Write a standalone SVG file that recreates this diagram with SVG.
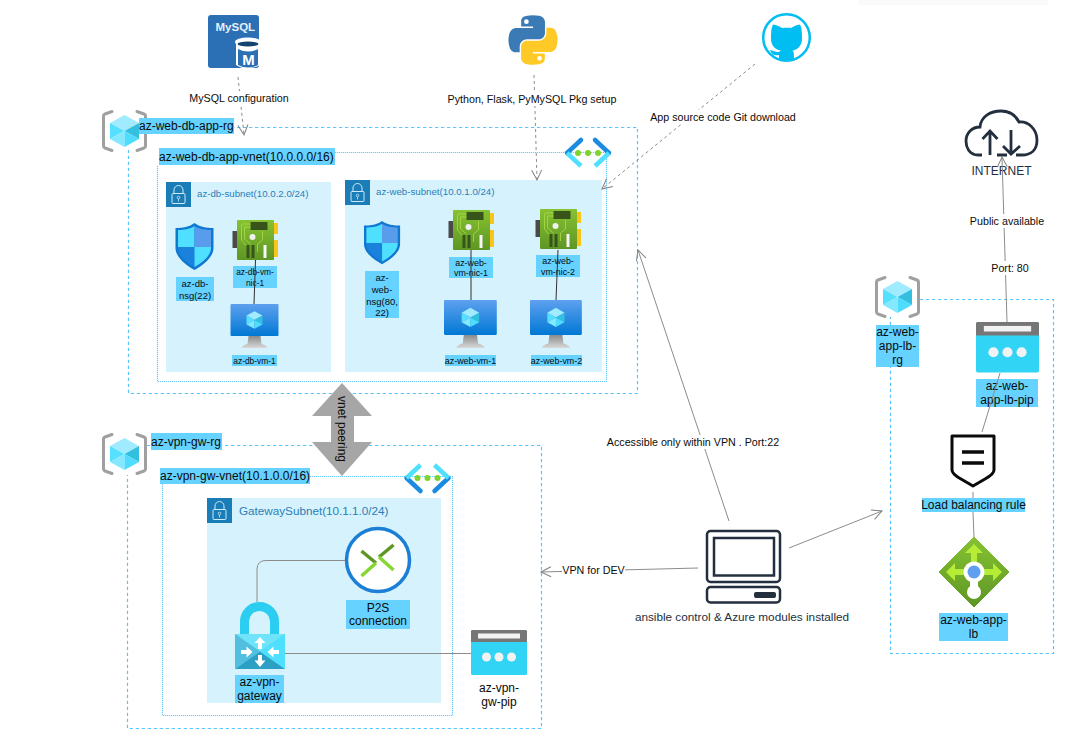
<svg xmlns="http://www.w3.org/2000/svg" width="1072" height="753" viewBox="0 0 1072 753">
<style>
text{font-family:"Liberation Sans",Arial,sans-serif;fill:#0b0b0b}
.m{text-anchor:middle}
.rg{fill:none;stroke:#5ac4ff;stroke-width:1.2;stroke-dasharray:3.3 2.7}
.vn{fill:none;stroke:#66ccff;stroke-width:1.2;stroke-dasharray:1.2 .8}
.sn{fill:#d6f3fd}
.lb{fill:#66d2ff}
.c{fill:none;stroke:#8c8c8c;stroke-width:1}
.a{marker-end:url(#open)}
.d{stroke-dasharray:3 3}
.b{fill:none;stroke:#303030;stroke-width:1}
.w{fill:#fff}
.t12{font-size:12px}.t11{font-size:10.7px}.t10{font-size:9.7px}.t9{font-size:9.5px}.t8{font-size:8.4px}.t88{font-size:8.9px}
.sub{fill:#2a7db8}
</style>
<defs>
<marker id="open" markerUnits="userSpaceOnUse" markerWidth="16" markerHeight="14" refX="11" refY="7" orient="auto"><path d="M1,2 L11,7 L1,12" fill="none" stroke="#808080" stroke-width="1"/></marker>
<linearGradient id="scr" x1="0" y1="0" x2="0" y2="1"><stop offset="0" stop-color="#5ea0ef"/><stop offset="1" stop-color="#0078d4"/></linearGradient>
<linearGradient id="std" x1="0" y1="0" x2="0" y2="1"><stop offset="0" stop-color="#8a8a8a"/><stop offset="1" stop-color="#d8d8d8"/></linearGradient>
<linearGradient id="grn" x1="0" y1="0" x2="0" y2="1"><stop offset="0" stop-color="#86c232"/><stop offset="1" stop-color="#5e9624"/></linearGradient>
<g id="cube">
<path d="M0,-16 L14.5,-8 L0,0 L-14.5,-8Z" fill="#a0ebff"/>
<path d="M14.5,-8 L14.5,8 L0,0Z" fill="#33bfdf"/>
<path d="M-14.5,-8 L-14.5,8 L0,0Z" fill="#55e0ff"/>
<path d="M-14.5,8 L0,16 L0,0Z" fill="#84e8ff"/>
<path d="M14.5,8 L0,16 L0,0Z" fill="#4fdcff"/>
</g>
<g id="rgicon">
<path d="M10,1.5 L3,4 Q1.5,4.5 1.5,6 V36 Q1.5,37.5 3,38 L10,40.5 M35,1.5 L42,4 Q43.5,4.5 43.5,6 V36 Q43.5,37.5 42,38 L35,40.5" fill="none" stroke="#a0a0a0" stroke-width="3" stroke-linecap="round"/>
<use href="#cube" x="22.5" y="21"/>
</g>
<g id="lock">
<rect width="25" height="25" fill="#1a7db8"/>
<path d="M8,11.5 V8 a4.5,4.5 0 0 1 9,0 V11.5" fill="none" stroke="#cfeaf7" stroke-width="1"/>
<rect x="6" y="11.5" width="13" height="10" rx="1" fill="none" stroke="#cfeaf7" stroke-width="1"/>
<circle cx="12.5" cy="15.5" r="1.3" fill="none" stroke="#cfeaf7" stroke-width=".8"/>
<path d="M12.5,17 V19.5" stroke="#cfeaf7" stroke-width=".8"/>
</g>
<g id="shield">
<path d="M19,0 C14,4 7,5 0,5 V25 C0,35 12,43 19,47 C26,43 38,35 38,25 V5 C31,5 24,4 19,0Z" fill="#0f78d0"/>
<path d="M19,3 C15,6 8,7 2.5,7 V24 H19Z" fill="#50e0ff"/>
<path d="M19,3 C23,6 30,7 35.5,7 V24 H19Z" fill="#5a9cec"/>
<path d="M2.5,24 H19 V44 C12,40 2.5,33 2.5,25Z" fill="#1a82dc"/>
<path d="M35.5,24 H19 V44 C26,40 35.5,33 35.5,25Z" fill="#50e0ff"/>
</g>
<g id="nic">
<rect x="0" y="11" width="4.5" height="17" fill="#4a4a4a"/>
<rect x="41" y="3" width="4.5" height="11" fill="#fcc419"/>
<rect x="41" y="20" width="4.5" height="17" fill="#fcc419"/>
<rect x="4.5" y="0" width="37" height="40" rx="1" fill="url(#grn)"/>
<rect x="18" y="2" width="17" height="8" fill="#37541a"/>
<path d="M18,4 H10 Q9,4 9,6 V20 L14,26 M18,7 H12 V19 L18,24 M30,11 V20 L25,24 V32" fill="none" stroke="#b4e34a" stroke-width=".7"/>
<circle cx="20" cy="17" r="3" fill="#f0f0f0"/>
<rect x="14" y="25" width="3" height="13" fill="#37541a"/>
<rect x="19" y="25" width="3" height="13" fill="#37541a"/>
<rect x="31" y="25" width="3" height="13" fill="#f5f5f5"/>
</g>
<g id="vm">
<path d="M18,32 H30 L31,40 Q36,41 37,44 H11 Q12,41 17,40Z" fill="url(#std)"/>
<rect x="0" y="0" width="48" height="32" rx="1" fill="url(#scr)"/>
<use href="#cube" transform="translate(24,16) scale(.55)"/>
</g>
<g id="vnet">
<path d="M17,1 L3,14" stroke="#1a8be0" stroke-width="4.500" stroke-linecap="round" fill="none"/>
<path d="M3,14 L17,27" stroke="#50e0ff" stroke-width="4.500" fill="none"/>
<path d="M31,1 L45,14" stroke="#1a8be0" stroke-width="4.500" stroke-linecap="round" fill="none"/>
<path d="M45,14 L31,27" stroke="#50e0ff" stroke-width="4.500" fill="none"/>
<circle cx="14" cy="14" r="3" fill="#7fd32e"/><circle cx="24" cy="14" r="3" fill="#7fd32e"/><circle cx="34" cy="14" r="3" fill="#7fd32e"/>
</g>
<g id="pip">
<rect width="56" height="45" rx="1.5" fill="#32d4f5"/>
<path d="M0,12 V1.5 Q0,0 1.5,0 H54.5 Q56,0 56,1.5 V12Z" fill="#767676"/>
<rect x="7" y="3.500" width="42" height="5" fill="#f2f2f2"/>
<circle cx="15.500" cy="27" r="4.500" fill="#f2f2f2"/><circle cx="28" cy="27" r="4.500" fill="#f2f2f2"/><circle cx="40.500" cy="27" r="4.500" fill="#f2f2f2"/>
</g>
<path id="py" d="M54.9,.5 C50.4,.5 46,.9 42.2,1.6 C31,3.6 29,7.7 29,15.3 V25.3 H55.2 V28.6 H19.1 C11.5,28.6 4.8,33.2 2.8,41.9 C.4,51.9 .3,58.1 2.8,68.5 C4.7,76.3 9.1,81.8 16.7,81.8 H25.7 V69.8 C25.7,61.2 33.2,53.6 42,53.6 H68.2 C75.5,53.6 81.3,47.6 81.3,40.3 V15.3 C81.3,8.2 75.3,2.9 68.2,1.7 C63.7,.9 59.1,.5 54.9,.5Z M40.5,9.5 a5.2,5.2 0 1 1 0,10.4 a5.2,5.2 0 1 1 0,-10.4Z" fill-rule="evenodd"/>
</defs>
<rect width="1072" height="753" fill="#fff"/>
<rect x="858" y="0" width="190" height="5" fill="#fafafa"/>

<g id="containers">
<g id="az-web-db-app-rg"><path class="rg" d="M147,127.500 H637.500 V393.500 H128.500 V150"/></g>
<g id="az-web-db-app-vnet"><path class="vn" d="M335,152.500 H606.500 V381.500 H157.500 V165"/></g>
<g id="az-vpn-gw-rg"><path class="rg" d="M147,445.500 H541.500 V728.500 H127.500 V475"/></g>
<g id="az-vpn-gw-vnet"><path class="vn" d="M310,476.500 H452.500 V715.500 H162.500 V484"/></g>
<g id="az-web-app-lb-rg"><path class="rg" d="M920,299.500 H1053.500 V653.500 H890.500 V367 M890.500,325 V317"/></g>
<g id="az-db-subnet"><rect class="sn" x="166" y="182" width="165" height="190"/><use href="#lock" x="166" y="182"/><text class="t10 sub" x="197" y="197">az-db-subnet(10.0.2.0/24)</text></g>
<g id="az-web-subnet"><rect class="sn" x="345" y="180" width="257" height="192"/><use href="#lock" x="345" y="180"/><text class="t10 sub" x="376" y="195">az-web-subnet(10.0.1.0/24)</text></g>
<g id="GatewaySubnet"><rect class="sn" x="207" y="498" width="234" height="205"/><use href="#lock" x="207" y="498"/><text style="font-size:11.700px" class="sub" x="239" y="515">GatewaySubnet(10.1.1.0/24)</text></g>
</g>

<g id="node-rg1"><use href="#rgicon" x="102" y="110"/><rect class="lb" x="139" y="118" width="95" height="16"/><text class="t12" x="139" y="130">az-web-db-app-rg</text></g>
<g id="node-vnet1"><rect class="lb" x="159" y="148" width="176" height="17"/><text class="t12" x="159" y="161">az-web-db-app-vnet(10.0.0.0/16)</text><use href="#vnet" x="564" y="139"/></g>
<g id="node-rg2"><use href="#rgicon" x="102" y="433"/><rect class="lb" x="151" y="433" width="71" height="17"/><text class="t12" x="151" y="446">az-vpn-gw-rg</text></g>
<g id="node-vnet2"><rect class="lb" x="160" y="468" width="150" height="16"/><text class="t12" x="160" y="480">az-vpn-gw-vnet(10.1.0.0/16)</text><use href="#vnet" transform="translate(403.500,492) scale(1,-1)"/></g>

<g id="az-db-nsg"><use href="#shield" x="175.500" y="223"/><rect class="lb" x="176" y="277" width="38" height="24"/><text class="t9 m" x="195" y="287">az-db-</text><text class="t9 m" x="195" y="299">nsg(22)</text></g>
<g id="az-db-vm-nic-1"><use href="#nic" x="232.500" y="220"/><rect class="lb" x="233" y="266" width="44" height="22"/><text class="t8 m" x="255" y="274.500">az-db-vm-</text><text class="t8 m" x="255" y="285.500">nic-1</text></g>
<g id="az-db-vm-1"><use href="#vm" x="230.500" y="304"/><rect class="lb" x="232" y="355" width="45" height="11"/><text class="t8 m" x="254.500" y="363.500">az-db-vm-1</text></g>
<g id="az-web-nsg"><use href="#shield" transform="translate(364,221) scale(.95,.92)"/><rect class="lb" x="365" y="271" width="34" height="47"/><text class="t9 m" x="382" y="281">az-</text><text class="t9 m" x="382" y="293">web-</text><text class="t9 m" x="382" y="305">nsg(80,</text><text class="t9 m" x="382" y="316">22)</text></g>
<g id="az-web-vm-nic-1"><use href="#nic" x="448.500" y="210"/><rect class="lb" x="449" y="257" width="44" height="21"/><text class="t88 m" x="471" y="265.500">az-web-</text><text class="t88 m" x="471" y="275.500">vm-nic-1</text></g>
<g id="az-web-vm-nic-2"><use href="#nic" x="535.500" y="209"/><rect class="lb" x="536" y="255" width="44" height="22"/><text class="t88 m" x="558" y="264">az-web-</text><text class="t88 m" x="558" y="274.500">vm-nic-2</text></g>
<g id="az-web-vm-1"><use href="#vm" transform="translate(444,300) scale(1.1,1.09)"/><rect class="lb" x="445" y="355" width="51" height="11"/><text class="t88 m" x="470.500" y="363.500">az-web-vm-1</text></g>
<g id="az-web-vm-2"><use href="#vm" transform="translate(530,300) scale(1.08,1.09)"/><rect class="lb" x="531" y="355" width="51" height="11"/><text class="t88 m" x="556.500" y="363.500">az-web-vm-2</text></g>

<g id="mysql">
<rect x="208" y="15" width="51" height="53" rx="3" fill="#2b6fb5"/>
<text x="215.500" y="31" font-size="11.500" font-weight="bold" style="fill:#e6eef7">MySQL</text>
<path d="M236,42 V65 Q247,72 260,65 V42Z" fill="#fff"/>
<ellipse cx="248" cy="42" rx="13" ry="4.500" fill="#fff"/>
<ellipse cx="248" cy="44" rx="10.500" ry="2.500" fill="#14426f"/>
<path d="M238,49 Q248,54 258,49 V65 Q248,70 238,65Z" fill="#2b6fb5"/>
<text class="m" x="248.500" y="65" font-size="15" font-weight="bold" style="fill:#fff">M</text>
</g>
<g id="python">
<g transform="translate(508,15) scale(.4545)"><use href="#py" fill="#3a7ab5"/><use href="#py" fill="#ffca28" transform="rotate(180 55 55)"/></g>
</g>
<g id="github">
<circle cx="786.500" cy="37.500" r="23.300" fill="none" stroke="#00bef2" stroke-width="2.500"/>
<path d="M771,39 C771,33 771,28 773,24.500 C777,25 780,27 782,28 C785,27.500 788,27.500 791,28 C793,27 796,25 800,24.500 C802,28 802,33 802,39 C802,46 797,50 792.500,50.500 C794,52 794,54 794,59.500 Q786.500,62 779,59.500 V55 C775,56 772,55 770,50 C772,50 774,52 779,52 C779.500,51.500 780,51 781,50.500 C776,50 771,46 771,39Z" fill="#00bef2"/>
</g>
<g id="internet">
<path d="M982,155 H978 C969,155 966,147 966,141 C966,133 972,127 980,127 C981,116 991,111 1001,111 C1010,111 1016,116 1019,122 C1029,121 1037,130 1037,140 C1037,150 1031,155 1022,155 H1016 M997,155 H1007" fill="none" stroke="#232f3e" stroke-width="2.800"/>
<path d="M990,155 V131 M982.500,139 L990,131 L997.500,139 M1011,130 V154 M1003,146 L1011,154 L1020,146" fill="none" stroke="#232f3e" stroke-width="2.800"/>
<text class="t12 m" x="1001.500" y="174.500" style="fill:#232f3e">INTERNET</text>
</g>
<g id="laptop">
<rect x="707" y="531" width="73" height="51" rx="3.500" fill="none" stroke="#232f3e" stroke-width="2.500"/>
<rect x="714" y="538" width="60" height="37.500" fill="none" stroke="#232f3e" stroke-width="2.500"/>
<rect x="707" y="587" width="73" height="15.500" rx="3.500" fill="none" stroke="#232f3e" stroke-width="2.500"/>
<rect x="754" y="592" width="22" height="6" rx="2" fill="#232f3e"/>
<text style="font-size:11.750px;fill:#232f3e" class="m" x="742" y="621">ansible control &amp; Azure modules installed</text>
</g>
<g id="p2s">
<circle cx="378" cy="560" r="31.500" fill="#fff" stroke="#1b7fd6" stroke-width="3.500"/>
<path d="M361.500,551 L376,563" stroke="#5e9624" stroke-width="3.500"/>
<path d="M376,563 L361.500,576" stroke="#86d633" stroke-width="3.500"/>
<path d="M393.500,545 L379,557" stroke="#5e9624" stroke-width="3.500"/>
<path d="M379,557 L393.500,570" stroke="#86d633" stroke-width="3.500"/>
<rect class="lb" x="346" y="600" width="64" height="29"/><text class="t12 m" x="378" y="612">P2S</text><text class="t12 m" x="378" y="625">connection</text>
</g>
<g id="az-vpn-gateway">
<path d="M244.500,636 V621.500 a15,15 0 0 1 30,0 V636" fill="none" stroke="#2bcdf0" stroke-width="9"/>
<rect x="235" y="634" width="50" height="35" rx="1.500" fill="#50d8f5"/>
<path d="M235,634 H285 L260,651.500Z" fill="#6fe3fa"/><path d="M235,669 H285 L260,651.500Z" fill="#2ba0c4"/><path d="M285,634 V669 L260,651.500Z" fill="#50e0ff"/><path d="M235,634 V669 L260,651.500Z" fill="#53bfdf"/>
<path d="M260,637 L265.500,643 H262 V649 H258 V643 H254.500Z M260,667 L265.500,660.500 H262 V655 H258 V660.500 H254.500Z M241,650 H246.500 V646.500 L252.500,652 L246.500,657.500 V654 H241Z M279,650 H273.500 V646.500 L267.500,652 L273.500,657.500 V654 H279Z" fill="#fff"/>
<rect class="lb" x="235" y="675" width="49" height="28"/><text class="t12 m" x="259.500" y="686">az-vpn-</text><text class="t12 m" x="259.500" y="700">gateway</text>
</g>
<g id="az-vpn-gw-pip"><use href="#pip" x="471" y="630"/><text class="t12 m" x="499" y="692">az-vpn-</text><text class="t12 m" x="499" y="706">gw-pip</text></g>
<g id="node-rg3"><use href="#rgicon" x="875" y="276"/><rect class="lb" x="876" y="325" width="43" height="42"/><text class="t12 m" x="897.500" y="336">az-web-</text><text class="t12 m" x="897.500" y="350">app-lb-</text><text class="t12 m" x="897.500" y="364">rg</text></g>
<g id="az-web-app-lb-pip"><use href="#pip" transform="translate(976,322) scale(1.125,1.12)"/><rect class="lb" x="976" y="379" width="62" height="28"/><text class="t12 m" x="1007" y="390">az-web-</text><text class="t12 m" x="1007" y="404">app-lb-pip</text></g>
<g id="lb-rule">
<path d="M952,436 H994 V470 Q994,474 985,479 L973,486 L961,479 Q952,474 952,470Z" fill="#fff" stroke="#0a0a0a" stroke-width="3" stroke-linejoin="round"/>
<path d="M962,452 H984 M962,463 H984" stroke="#0a0a0a" stroke-width="3.500"/>
<rect class="lb" x="922" y="498" width="103" height="14"/><text class="t12 m" x="973.500" y="509">Load balancing rule</text>
</g>
<g id="az-web-app-lb">
<path d="M974,537 L1009,572 L974,607 L939,572Z" fill="url(#grn)" stroke="url(#grn)" stroke-width="1" stroke-linejoin="round"/>
<path d="M974,544 L983,553 H977 V562 H971 V553 H965Z M946,572 L955,563 V569 H964 V575 H955 V581Z M1002,572 L993,563 V569 H984 V575 H993 V581Z" fill="#b4ec36"/>
<path d="M970,582 h8 v8 h-8Z" fill="#fff"/>
<circle cx="974" cy="572" r="10.500" fill="#fff"/><circle cx="974" cy="592" r="7" fill="#fff"/><circle cx="974" cy="572" r="6.500" fill="#5ea0ef"/>
<rect class="lb" x="939" y="613" width="69" height="28"/><text class="t12 m" x="973.500" y="624">az-web-app-</text><text class="t12 m" x="973.500" y="638">lb</text>
</g>

<g id="connectors">
<path class="b" d="M255.500,260 L254,304"/>
<path class="b" d="M471,250 V300"/>
<path class="b" d="M558,250 L556,300"/>
<path class="c a d" d="M238,77 L244,135"/>
<path class="c a d" d="M534,75 L537,180"/>
<path class="c a d" d="M755,64 L602,189"/>
<path class="c" d="M345,560.500 H266 Q257,560.500 257,569.500 V602"/>
<path class="c" d="M285,653.500 H471"/>
<path class="c a" d="M729,521 L638,250"/>
<path class="c a" d="M698,568 L541,572"/>
<path class="c a" d="M789,548 L882,511"/>
<path class="c a" d="M1007,322 L1002,157"/>
<path class="c" d="M1000,373 L982,432"/>
<path class="c" d="M973,492 V498 M973,512 L974,537"/>
<path id="vnet-peering" d="M342,383 L372,416 H354 V442 H372 L342,476 L312,442 H331 V416 H312Z" fill="#a6a6a6"/>
<text class="t12 m" transform="translate(338,429) rotate(90)">vnet peering</text>
<g id="edge-labels">
<rect class="w" x="189" y="91" width="100" height="13"/><text class="t11 m" x="239" y="102">MySQL configuration</text>
<rect class="w" x="447" y="92" width="170" height="14"/><text class="t11 m" x="532" y="103">Python, Flask, PyMySQL Pkg setup</text>
<rect class="w" x="650" y="110" width="146" height="14"/><text class="t11 m" x="723" y="121">App source code Git download</text>
<rect class="w" x="606" y="435" width="175" height="14"/><text class="t11 m" x="693" y="446">Accessible only within VPN . Port:22</text>
<rect class="w" x="562" y="563" width="63" height="14"/><text class="t11 m" x="593.500" y="574">VPN for DEV</text>
<rect class="w" x="970" y="214" width="75" height="14"/><text class="t11 m" x="1007" y="225">Public available</text>
<rect class="w" x="991" y="261" width="38" height="14"/><text class="t11 m" x="1010" y="272">Port: 80</text>
</g>
</g>
</svg>
